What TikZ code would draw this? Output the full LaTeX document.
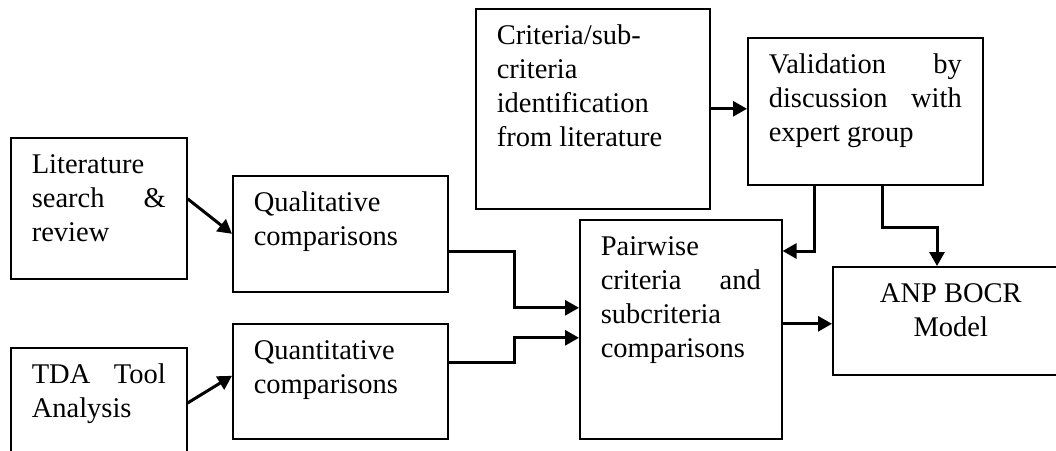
\documentclass[tikz,border=0pt]{standalone}
\usepackage{fontspec}
\setmainfont{Liberation Serif}
\usepackage{tikz}
\usetikzlibrary{arrows.meta,positioning}
\newcommand{\blocktext}[3]{\parbox[t][#2][t]{#1}{\strut#3}}
\tikzset{
  blk/.style={
    draw,
    line width=1.6pt,
    anchor=north west,
    inner xsep=21pt,
    inner ysep=12pt,
    font=\fontsize{28.5}{34}\selectfont
  },
  arr/.style={
    -{Triangle[length=14pt,width=15pt]},
    line width=3pt
  }
}
\begin{document}
\begin{tikzpicture}[x=1pt,y=-1pt]
\useasboundingbox (0,0) rectangle (1056,450);
\node[blk] (lit) at (10,137) {\blocktext{134pt}{117pt}{Literature\\search \hfill \&\\review}};
\node[blk] (tda) at (10,347) {\blocktext{134pt}{109pt}{TDA \hfill Tool\\Analysis}};
\node[blk] (qual) at (232,175) {\blocktext{173pt}{92pt}{Qualitative\\comparisons}};
\node[blk] (quant) at (232,323) {\blocktext{173pt}{91pt}{Quantitative\\comparisons}};
\node[blk] (crit) at (475,8) {\blocktext{192pt}{176pt}{Criteria/sub-\\criteria\\identification\\from literature}};
\node[blk] (valid) at (747,37) {\blocktext{193pt}{123pt}{Validation \hfill by\\discussion \hfill with\\expert group}};
\node[blk] (pair) at (579,219) {\blocktext{160pt}{195pt}{Pairwise\\criteria \hfill and\\subcriteria\\comparisons}};
\node[blk] (anp) at (832,266) {\blocktext{194pt}{84pt}{\centering ANP BOCR\\Model}};
% connectors
\draw[arr] ([yshift=9.5pt]lit.east) -- (qual.west);
\draw[arr] ([yshift=-56pt]tda.north east) -- ([yshift=5.5pt]quant.west);
\draw[arr] (crit.east) -- (crit.east -| valid.west);
\draw[arr] ([yshift=-18pt]qual.east) -- ++(66,0) |- ([yshift=21.5pt]pair.west);
\draw[arr] ([yshift=18.5pt]quant.east) -- ++(66,0) |- ([yshift=-8.5pt]pair.west);
\draw[arr] ([xshift=-50.5pt]valid.south) |- ([yshift=-32pt]pair.north east);
\draw[arr] ([xshift=17.5pt]valid.south) -- ++(0,42) -| ([xshift=105pt]anp.north west);
\draw[arr] ([yshift=5.5pt]pair.east) -- ([yshift=-3pt]anp.west);
\end{tikzpicture}
\end{document}
